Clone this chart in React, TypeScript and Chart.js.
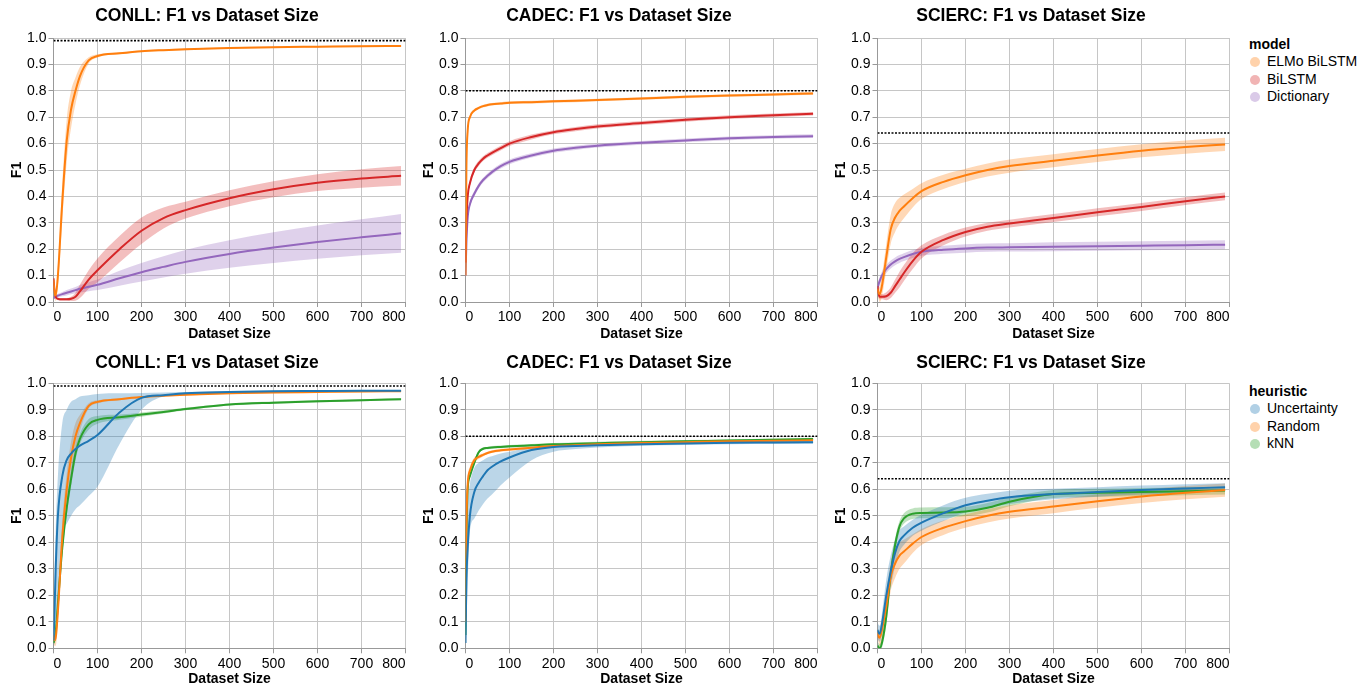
import React, { useEffect, useRef } from "react";
import { Chart, registerables } from "chart.js";

Chart.register(...registerables);

const FONT = "'Liberation Sans', Arial, Helvetica, sans-serif";

// shared x positions (dataset size)
const X = [0, 2, 5, 10, 20, 30, 40, 50, 60, 80, 100, 150, 200, 250, 300, 400, 500, 600, 700, 790];

const BLUE = "#1f77b4";
const ORANGE = "#ff7f0e";
const GREEN = "#2ca02c";
const RED = "#d62728";
const PURPLE = "#9467bd";

// ---------- CONLL (model) ----------
const conllElmo = [0.083, 0.04, 0.025, 0.1, 0.38, 0.61, 0.73, 0.8, 0.855, 0.915, 0.932, 0.942, 0.95, 0.954, 0.957, 0.962, 0.965, 0.967, 0.969, 0.97];
const conllElmoErr = [0.01, 0.02, 0.02, 0.04, 0.07, 0.08, 0.07, 0.05, 0.035, 0.012, 0.006, 0.004, 0.003, 0.003, 0.003, 0.003, 0.003, 0.003, 0.003, 0.003];
const conllBilstm = [0.09, 0.05, 0.02, 0.012, 0.01, 0.01, 0.012, 0.02, 0.04, 0.085, 0.12, 0.2, 0.27, 0.318, 0.348, 0.393, 0.427, 0.452, 0.468, 0.478];
const conllBilstmErr = [0.01, 0.01, 0.005, 0.005, 0.005, 0.005, 0.008, 0.015, 0.025, 0.035, 0.045, 0.05, 0.05, 0.04, 0.032, 0.03, 0.03, 0.032, 0.035, 0.037];
const conllDict = [0.016, 0.017, 0.02, 0.024, 0.03, 0.035, 0.04, 0.045, 0.05, 0.058, 0.065, 0.09, 0.113, 0.133, 0.152, 0.182, 0.206, 0.227, 0.245, 0.26];
const conllDictErr = [0.005, 0.005, 0.006, 0.007, 0.008, 0.01, 0.011, 0.012, 0.014, 0.017, 0.02, 0.028, 0.035, 0.04, 0.045, 0.052, 0.058, 0.063, 0.068, 0.073];

// ---------- CADEC (model) ----------
const cadecElmo = [0.1, 0.5, 0.65, 0.7, 0.725, 0.735, 0.742, 0.746, 0.749, 0.752, 0.755, 0.757, 0.76, 0.762, 0.765, 0.771, 0.777, 0.782, 0.786, 0.79];
const cadecElmoErr = [0.02, 0.02, 0.012, 0.008, 0.006, 0.005, 0.005, 0.005, 0.005, 0.005, 0.005, 0.005, 0.005, 0.005, 0.005, 0.005, 0.005, 0.005, 0.005, 0.005];
const cadecBilstm = [0.15, 0.3, 0.4, 0.45, 0.5, 0.525, 0.543, 0.555, 0.565, 0.583, 0.6, 0.625, 0.643, 0.655, 0.665, 0.678, 0.69, 0.7, 0.707, 0.713];
const cadecBilstmErr = [0.01, 0.01, 0.01, 0.01, 0.01, 0.01, 0.009, 0.009, 0.009, 0.009, 0.009, 0.009, 0.008, 0.008, 0.008, 0.008, 0.007, 0.007, 0.007, 0.007];
const cadecDict = [0.1, 0.22, 0.32, 0.37, 0.41, 0.44, 0.462, 0.478, 0.492, 0.515, 0.531, 0.555, 0.573, 0.584, 0.592, 0.603, 0.612, 0.62, 0.625, 0.628];
const cadecDictErr = [0.01, 0.01, 0.01, 0.01, 0.01, 0.01, 0.009, 0.009, 0.009, 0.009, 0.009, 0.008, 0.008, 0.008, 0.007, 0.007, 0.007, 0.007, 0.007, 0.007];

// ---------- SCIERC (model) ----------
const sciercElmo = [0.05, 0.035, 0.03, 0.06, 0.17, 0.275, 0.32, 0.345, 0.362, 0.393, 0.42, 0.455, 0.48, 0.5, 0.515, 0.535, 0.555, 0.573, 0.587, 0.597];
const sciercElmoErr = [0.02, 0.02, 0.03, 0.04, 0.05, 0.055, 0.055, 0.05, 0.045, 0.035, 0.03, 0.027, 0.025, 0.025, 0.025, 0.025, 0.025, 0.025, 0.025, 0.025];
const sciercBilstm = [0.06, 0.035, 0.02, 0.02, 0.022, 0.035, 0.06, 0.085, 0.11, 0.155, 0.19, 0.235, 0.265, 0.285, 0.297, 0.318, 0.34, 0.36, 0.382, 0.4];
const sciercBilstmErr = [0.015, 0.015, 0.01, 0.01, 0.015, 0.02, 0.025, 0.03, 0.03, 0.03, 0.025, 0.02, 0.017, 0.015, 0.015, 0.015, 0.015, 0.015, 0.015, 0.015];
const sciercDict = [0.055, 0.065, 0.08, 0.1, 0.125, 0.142, 0.154, 0.163, 0.17, 0.182, 0.19, 0.198, 0.203, 0.206, 0.207, 0.209, 0.211, 0.213, 0.215, 0.217];
const sciercDictErr = [0.015, 0.015, 0.015, 0.015, 0.015, 0.015, 0.015, 0.015, 0.015, 0.015, 0.015, 0.015, 0.016, 0.016, 0.016, 0.017, 0.017, 0.017, 0.017, 0.017];

// ---------- CONLL (heuristic) ----------
const conllUnc = [0.03, 0.12, 0.3, 0.5, 0.65, 0.71, 0.735, 0.752, 0.765, 0.783, 0.805, 0.89, 0.945, 0.955, 0.962, 0.967, 0.97, 0.971, 0.972, 0.972];
const conllUncLo = [0.0, 0.02, 0.1, 0.2, 0.43, 0.47, 0.5, 0.525, 0.54, 0.575, 0.61, 0.77, 0.9, 0.95, 0.957, 0.962, 0.965, 0.967, 0.968, 0.968];
const conllUncHi = [0.06, 0.25, 0.45, 0.65, 0.85, 0.9, 0.93, 0.94, 0.95, 0.955, 0.96, 0.962, 0.963, 0.965, 0.967, 0.971, 0.973, 0.974, 0.975, 0.975];
const conllRand = [0.05, 0.03, 0.04, 0.14, 0.42, 0.6, 0.72, 0.8, 0.85, 0.915, 0.93, 0.94, 0.948, 0.953, 0.957, 0.962, 0.965, 0.967, 0.969, 0.97];
const conllRandErr = [0.02, 0.02, 0.03, 0.05, 0.06, 0.06, 0.06, 0.05, 0.03, 0.01, 0.006, 0.004, 0.003, 0.003, 0.003, 0.003, 0.003, 0.003, 0.003, 0.003];
const conllKnn = [0.02, 0.03, 0.06, 0.17, 0.38, 0.53, 0.64, 0.735, 0.79, 0.845, 0.862, 0.872, 0.882, 0.892, 0.903, 0.92, 0.927, 0.932, 0.936, 0.94];
const conllKnnErr = [0.01, 0.01, 0.02, 0.03, 0.03, 0.03, 0.03, 0.025, 0.02, 0.02, 0.015, 0.01, 0.008, 0.006, 0.005, 0.004, 0.004, 0.004, 0.004, 0.004];

// ---------- CADEC (heuristic) ----------
const cadecUnc = [0.02, 0.25, 0.38, 0.5, 0.59, 0.625, 0.65, 0.672, 0.685, 0.705, 0.72, 0.748, 0.76, 0.763, 0.766, 0.77, 0.773, 0.776, 0.777, 0.778];
const cadecUncLo = [0.0, 0.1, 0.25, 0.44, 0.49, 0.52, 0.545, 0.565, 0.58, 0.615, 0.645, 0.71, 0.742, 0.752, 0.758, 0.764, 0.767, 0.77, 0.771, 0.772];
const cadecUncHi = [0.05, 0.45, 0.55, 0.62, 0.68, 0.7, 0.71, 0.72, 0.725, 0.735, 0.742, 0.757, 0.766, 0.769, 0.772, 0.776, 0.779, 0.781, 0.782, 0.783];
const cadecRand = [0.1, 0.45, 0.62, 0.67, 0.71, 0.722, 0.73, 0.737, 0.742, 0.747, 0.75, 0.757, 0.763, 0.766, 0.77, 0.775, 0.778, 0.781, 0.783, 0.785];
const cadecRandErr = [0.03, 0.03, 0.02, 0.015, 0.01, 0.008, 0.006, 0.005, 0.005, 0.005, 0.005, 0.005, 0.005, 0.005, 0.005, 0.005, 0.005, 0.005, 0.005, 0.005];
const cadecKnn = [0.05, 0.4, 0.6, 0.65, 0.7, 0.74, 0.753, 0.756, 0.758, 0.76, 0.762, 0.766, 0.77, 0.772, 0.774, 0.778, 0.781, 0.784, 0.787, 0.79];
const cadecKnnErr = [0.02, 0.02, 0.015, 0.01, 0.008, 0.006, 0.005, 0.005, 0.005, 0.005, 0.005, 0.005, 0.005, 0.005, 0.005, 0.005, 0.005, 0.005, 0.005, 0.005];

// ---------- SCIERC (heuristic) ----------
const sciercUnc = [0.07, 0.06, 0.055, 0.09, 0.2, 0.29, 0.36, 0.405, 0.425, 0.455, 0.474, 0.51, 0.54, 0.557, 0.57, 0.582, 0.59, 0.597, 0.603, 0.608];
const sciercUncErr = [0.03, 0.03, 0.03, 0.04, 0.06, 0.06, 0.05, 0.04, 0.035, 0.03, 0.03, 0.03, 0.028, 0.026, 0.025, 0.02, 0.018, 0.017, 0.016, 0.015];
const sciercRand = [0.06, 0.045, 0.04, 0.07, 0.16, 0.27, 0.32, 0.35, 0.365, 0.395, 0.42, 0.455, 0.48, 0.5, 0.515, 0.535, 0.555, 0.573, 0.587, 0.597];
const sciercRandErr = [0.02, 0.02, 0.03, 0.04, 0.05, 0.055, 0.055, 0.05, 0.045, 0.035, 0.03, 0.027, 0.025, 0.025, 0.025, 0.025, 0.025, 0.025, 0.025, 0.025];
const sciercKnn = [0.01, 0.005, 0.0, 0.02, 0.12, 0.28, 0.39, 0.46, 0.49, 0.508, 0.511, 0.512, 0.516, 0.53, 0.553, 0.582, 0.587, 0.59, 0.593, 0.595];
const sciercKnnErr = [0.015, 0.015, 0.015, 0.02, 0.03, 0.03, 0.025, 0.02, 0.02, 0.02, 0.02, 0.02, 0.018, 0.018, 0.017, 0.015, 0.015, 0.015, 0.015, 0.015];

// reference (dotted) lines
const REF_CONLL = 0.99;
const REF_CADEC = 0.8;
const REF_SCIERC = 0.64;

const MODEL_LABELS = ["ELMo BiLSTM", "BiLSTM", "Dictionary"];
const MODEL_COLORS = [ORANGE, RED, PURPLE];
const HEUR_LABELS = ["Uncertainty", "Random", "kNN"];
const HEUR_COLORS = [BLUE, ORANGE, GREEN];

type Series = { label: string; color: string; mean: number[]; err?: number[]; lo?: number[]; hi?: number[] };
type Panel = { title: string; ref: number; row: number; col: number; series: Series[] };

const PANELS: Panel[] = [
  { title: "CONLL: F1 vs Dataset Size", ref: REF_CONLL, row: 0, col: 0, series: [
    { label: MODEL_LABELS[0], color: ORANGE, mean: conllElmo, err: conllElmoErr },
    { label: MODEL_LABELS[1], color: RED, mean: conllBilstm, err: conllBilstmErr },
    { label: MODEL_LABELS[2], color: PURPLE, mean: conllDict, err: conllDictErr },
  ] },
  { title: "CADEC: F1 vs Dataset Size", ref: REF_CADEC, row: 0, col: 1, series: [
    { label: MODEL_LABELS[0], color: ORANGE, mean: cadecElmo, err: cadecElmoErr },
    { label: MODEL_LABELS[1], color: RED, mean: cadecBilstm, err: cadecBilstmErr },
    { label: MODEL_LABELS[2], color: PURPLE, mean: cadecDict, err: cadecDictErr },
  ] },
  { title: "SCIERC: F1 vs Dataset Size", ref: REF_SCIERC, row: 0, col: 2, series: [
    { label: MODEL_LABELS[0], color: ORANGE, mean: sciercElmo, err: sciercElmoErr },
    { label: MODEL_LABELS[1], color: RED, mean: sciercBilstm, err: sciercBilstmErr },
    { label: MODEL_LABELS[2], color: PURPLE, mean: sciercDict, err: sciercDictErr },
  ] },
  { title: "CONLL: F1 vs Dataset Size", ref: REF_CONLL, row: 1, col: 0, series: [
    { label: HEUR_LABELS[0], color: BLUE, mean: conllUnc, lo: conllUncLo, hi: conllUncHi },
    { label: HEUR_LABELS[1], color: ORANGE, mean: conllRand, err: conllRandErr },
    { label: HEUR_LABELS[2], color: GREEN, mean: conllKnn, err: conllKnnErr },
  ] },
  { title: "CADEC: F1 vs Dataset Size", ref: REF_CADEC, row: 1, col: 1, series: [
    { label: HEUR_LABELS[0], color: BLUE, mean: cadecUnc, lo: cadecUncLo, hi: cadecUncHi },
    { label: HEUR_LABELS[1], color: ORANGE, mean: cadecRand, err: cadecRandErr },
    { label: HEUR_LABELS[2], color: GREEN, mean: cadecKnn, err: cadecKnnErr },
  ] },
  { title: "SCIERC: F1 vs Dataset Size", ref: REF_SCIERC, row: 1, col: 2, series: [
    { label: HEUR_LABELS[0], color: BLUE, mean: sciercUnc, err: sciercUncErr },
    { label: HEUR_LABELS[1], color: ORANGE, mean: sciercRand, err: sciercRandErr },
    { label: HEUR_LABELS[2], color: GREEN, mean: sciercKnn, err: sciercKnnErr },
  ] },
];

// ---------- layout ----------
const COL_LEFT = [8, 420, 832];
const CANVAS_W = 402;
const CANVAS_H = 344;
const ROW_TOP = [0, 344];
const PAD_L = 0.5;
const PAD_R = 4.5;
const Y_AXIS_W = 45;
const TITLE_PAD = [{ top: 5.2, bottom: 11.8 }, { top: 8.2, bottom: 10.1 }];
const X_AXIS_H = [42, 39.7];
const X_TITLE_PB = [1.2, 0];

function rgba(hex: string, a: number) {
  const n = parseInt(hex.slice(1), 16);
  return `rgba(${(n >> 16) & 255},${(n >> 8) & 255},${n & 255},${a})`;
}

function pts(vals: number[]) {
  return X.map((x, i) => ({ x, y: vals[i] }));
}

function PanelChart({ panel }: { panel: Panel }) {
  const ref = useRef<HTMLCanvasElement | null>(null);
  useEffect(() => {
    const datasets: any[] = [];
    panel.series.forEach((s) => {
      datasets.push({
        label: s.label,
        data: pts(s.mean),
        borderColor: s.color,
        borderWidth: 2,
        pointRadius: 0,
        fill: false,
        cubicInterpolationMode: "monotone",
      });
    });
    datasets.unshift({
      label: "ref",
      data: [{ x: 0, y: panel.ref }, { x: 800, y: panel.ref }],
      borderColor: "#000",
      borderWidth: 1.6,
      borderDash: [2, 1.5],
      pointRadius: 0,
      fill: false,
    });
    panel.series.forEach((s) => {
      const lo = s.lo ?? s.mean.map((m, i) => m - (s.err as number[])[i]);
      const hi = s.hi ?? s.mean.map((m, i) => m + (s.err as number[])[i]);
      datasets.push({
        label: s.label + " hi",
        data: pts(hi),
        borderColor: "rgba(0,0,0,0)",
        borderWidth: 0,
        pointRadius: 0,
        backgroundColor: rgba(s.color, 0.3),
        fill: "+1",
        cubicInterpolationMode: "monotone",
      });
      datasets.push({
        label: s.label + " lo",
        data: pts(lo),
        borderColor: "rgba(0,0,0,0)",
        borderWidth: 0,
        pointRadius: 0,
        fill: false,
        cubicInterpolationMode: "monotone",
      });
    });

    const tickFont = { family: FONT, size: 14 };
    const titleFont = { family: FONT, size: 14, weight: "bold" as const };
    const grid = { color: "#c6c6c6", tickColor: "#999", tickLength: 5, lineWidth: 1 };
    const r = panel.row;

    const chart = new Chart(ref.current as HTMLCanvasElement, {
      type: "line",
      data: { datasets },
      options: {
        responsive: false,
        animation: false,
        devicePixelRatio: 1,
        events: [],
        layout: { padding: { left: PAD_L, right: PAD_R, top: 0, bottom: 0 } },
        plugins: {
          legend: { display: false },
          tooltip: { enabled: false },
          filler: { drawTime: "beforeDatasetsDraw" },
          title: {
            display: true,
            text: panel.title,
            color: "#000",
            font: { family: FONT, size: 17.5, weight: "bold" },
            padding: TITLE_PAD[r],
          },
        } as any,
        scales: {
          x: {
            type: "linear",
            min: 0,
            max: 800,
            ticks: {
              stepSize: 100,
              align: "inner",
              color: "#000",
              font: tickFont,
              padding: 2,
              maxRotation: 0,
              autoSkip: false,
            },
            grid,
            border: { color: "#999" },
            title: {
              display: true,
              text: "Dataset Size",
              color: "#000",
              font: titleFont,
              padding: { top: 0, bottom: X_TITLE_PB[r] },
            },
            afterFit: (s: any) => {
              s.height = X_AXIS_H[r];
            },
          } as any,
          y: {
            type: "linear",
            min: 0,
            max: 1,
            ticks: {
              stepSize: 0.1,
              color: "#000",
              font: tickFont,
              padding: 2,
              callback: (v: any) => Number(v).toFixed(1),
            },
            grid,
            border: { color: "#999" },
            title: {
              display: true,
              text: "F1",
              color: "#000",
              font: titleFont,
              padding: { top: 0, bottom: 0 },
            },
            afterFit: (s: any) => {
              s.width = Y_AXIS_W;
            },
          } as any,
        },
      },
    });
    return () => chart.destroy();
  }, [panel]);

  return (
    <canvas
      ref={ref}
      width={CANVAS_W}
      height={CANVAS_H}
      style={{
        position: "absolute",
        left: COL_LEFT[panel.col],
        top: ROW_TOP[panel.row],
        width: CANVAS_W,
        height: CANVAS_H,
      }}
    />
  );
}

function Legend({ title, labels, colors, top }: { title: string; labels: string[]; colors: string[]; top: number }) {
  return (
    <div style={{ position: "absolute", left: 1249, top, fontFamily: FONT, fontSize: 14, color: "#000" }}>
      <div style={{ fontWeight: "bold", height: 18, lineHeight: "18px" }}>{title}</div>
      {labels.map((l, i) => (
        <div key={l} style={{ position: "relative", height: 17.7, lineHeight: "17.7px", whiteSpace: "nowrap" }}>
          <span
            style={{
              position: "absolute",
              left: 1,
              top: 4,
              width: 10,
              height: 10,
              borderRadius: "50%",
              background: rgba(colors[i], 0.35),
            }}
          />
          <span style={{ position: "absolute", left: 18 }}>{l}</span>
        </div>
      ))}
    </div>
  );
}

export default function App() {
  return (
    <div style={{ position: "absolute", left: 0, top: 0, width: 1371, height: 688, background: "#fff", overflow: "hidden" }}>
      {PANELS.map((p, i) => (
        <PanelChart key={i} panel={p} />
      ))}
      <Legend title="model" labels={MODEL_LABELS} colors={MODEL_COLORS} top={35} />
      <Legend title="heuristic" labels={HEUR_LABELS} colors={HEUR_COLORS} top={382} />
    </div>
  );
}
